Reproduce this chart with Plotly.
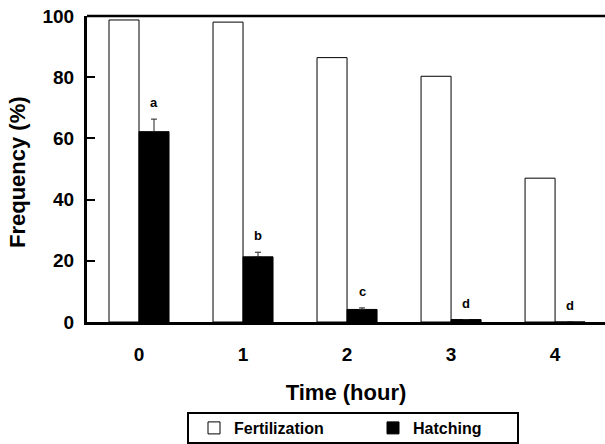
import plotly.graph_objects as go

hours = [0, 1, 2, 3, 4]
hour_labels = ["0", "1", "2", "3", "4"]
fertilization = [98.7, 98.0, 86.4, 80.3, 47.0]
hatching = [62.2, 21.3, 4.1, 0.8, 0.0]
hatching_err = [4.1, 1.5, 0.5, 0.0, 0.0]
letters = ["a", "b", "c", "d", "d"]

FONT = "Arial, 'Liberation Sans', Helvetica, sans-serif"

fig = go.Figure()
fig.add_trace(go.Bar(
    x=hours, y=fertilization, name="Fertilization",
    marker=dict(color="white", line=dict(color="black", width=1)),
))
fig.add_trace(go.Bar(
    x=hours, y=hatching, name="Hatching",
    marker=dict(color="black", line=dict(color="black", width=1)),
    error_y=dict(type="data", array=hatching_err, arrayminus=[0]*5,
                 symmetric=False, color="#222", thickness=1, width=3),
))

for h, v, e, t in zip(hours, hatching, hatching_err, letters):
    fig.add_annotation(x=h + 0.144, y=v + e, text=f"<b>{t}</b>", showarrow=False,
                       yanchor="bottom", yshift=7, font=dict(size=13, color="black", family=FONT))

PL, PT, PW, PH = 87, 16, 518, 306

def px(xw):
    return (xw - PL) / PW

def py(yw):
    return (PT + PH - yw) / PH

# legend frame
fig.add_shape(type="rect", xref="paper", yref="paper",
              x0=px(188), x1=px(518), y0=py(443), y1=py(413),
              line=dict(color="black", width=2), fillcolor="rgba(0,0,0,0)")

# y-axis title
fig.add_annotation(xref="paper", yref="paper", x=px(17), y=py(172), text="<b>Frequency (%)</b>",
                   textangle=-90, showarrow=False, xanchor="center", yanchor="middle",
                   font=dict(size=22, family=FONT, color="black"))

fig.update_layout(
    width=605, height=444,
    margin=dict(l=PL, r=605 - PL - PW, t=PT, b=444 - PT - PH, autoexpand=False),
    plot_bgcolor="white", paper_bgcolor="white",
    barmode="group", bargap=0.423, bargroupgap=0,
    font=dict(family=FONT, color="black"),
    showlegend=True,
    legend=dict(orientation="h", x=px(194), xanchor="left",
                y=py(428), yanchor="middle",
                font=dict(size=16, family=FONT, color="black", weight="bold"),
                entrywidth=134, entrywidthmode="pixels",
                bgcolor="rgba(0,0,0,0)", borderwidth=0, itemwidth=30),
    xaxis=dict(range=[-0.5, 4.48], tickvals=hours, ticktext=hour_labels,
               showline=True, linecolor="black", linewidth=3, mirror=False,
               ticks="", showgrid=False, zeroline=False, automargin=False,
               tickfont=dict(size=19, family=FONT, weight="bold"),
               ticklabelstandoff=13, ticklabeloverflow="allow",
               title=dict(text="<b>Time (hour)</b>", font=dict(size=22, family=FONT), standoff=21)),
    yaxis=dict(range=[0, 100], dtick=20, showline=True, linecolor="black", linewidth=3,
               ticks="inside", ticklen=8, tickwidth=2, tickcolor="black",
               showgrid=False, zeroline=False, automargin=False,
               tickfont=dict(size=19, family=FONT, weight="bold"),
               ticklabelstandoff=6, ticklabeloverflow="allow"),
)
# top border line
fig.add_shape(type="line", xref="paper", yref="paper", x0=0, x1=1, y0=1, y1=1,
              line=dict(color="black", width=2.5))

fig.write_html("out.html", config={"displayModeBar": False},
               post_script="document.body.style.margin='0';")
